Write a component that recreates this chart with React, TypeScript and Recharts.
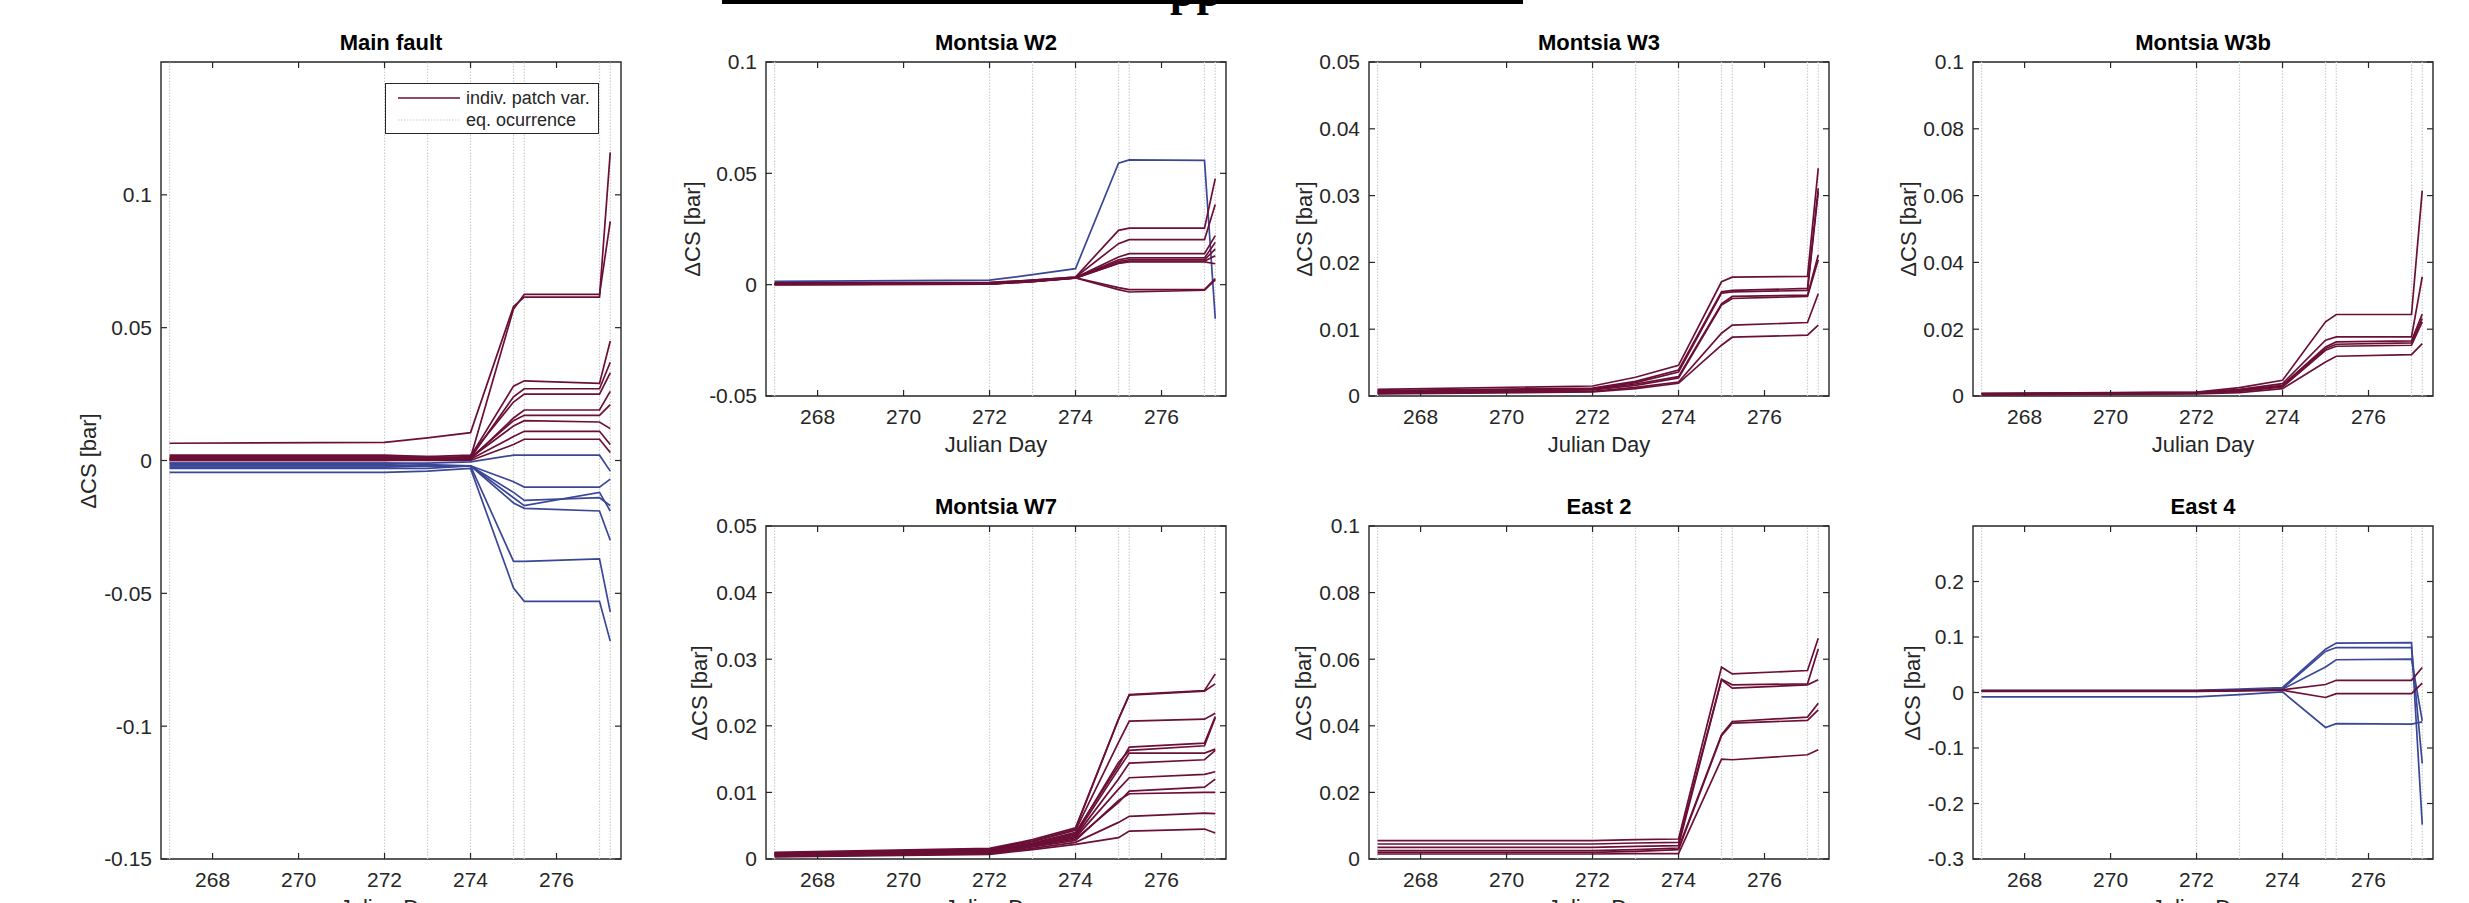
import React from "react";
import { LineChart, Line, XAxis, YAxis, ReferenceLine, ReferenceArea, Legend } from "recharts";

// sample days (same for every patch) and earthquake occurrence days
const days = [267, 272, 273, 274, 275, 275.25, 277, 277.25];
const eqDays = [267, 272, 273, 274, 275, 275.25, 277, 277.25];
const dayTicks = [268, 270, 272, 274, 276];
const dayRange: [number, number] = [266.8, 277.5];

// ΔCS per patch, one array per patch, values at `days`
const mainFault = [
    [0.0065, 0.0068, 0.0085, 0.0105, 0.058, 0.0615, 0.0615, 0.116],
    [0.002, 0.002, 0.0015, 0.001, 0.057, 0.0625, 0.0625, 0.09],
    [0.001, 0.001, 0.001, 0.0015, 0.028, 0.03, 0.029, 0.045],
    [0.0005, 0.0005, 0.001, 0.001, 0.024, 0.027, 0.027, 0.037],
    [0.0015, 0.0015, 0.0015, 0.002, 0.022, 0.025, 0.025, 0.033],
    [0, 0, 0.0005, 0.0005, 0.016, 0.019, 0.019, 0.026],
    [0.0005, 0.0005, 0.0005, 0.001, 0.015, 0.017, 0.017, 0.021],
    [0.001, 0.001, 0.001, 0.001, 0.013, 0.015, 0.0145, 0.012],
    [0.0002, 0.0002, 0.0005, 0.0005, 0.009, 0.011, 0.011, 0.006],
    [0, 0, 0, 0, 0.006, 0.008, 0.008, 0.003],
    [-0.001, -0.001, -0.001, -0.0005, 0.002, 0.002, 0.002, -0.004],
    [-0.001, -0.001, -0.0015, -0.002, -0.008, -0.01, -0.01, -0.007],
    [-0.0015, -0.0015, -0.002, -0.002, -0.012, -0.015, -0.014, -0.017],
    [-0.002, -0.002, -0.002, -0.002, -0.014, -0.017, -0.012, -0.019],
    [-0.0025, -0.0025, -0.002, -0.002, -0.016, -0.018, -0.019, -0.03],
    [-0.003, -0.003, -0.003, -0.002, -0.038, -0.038, -0.037, -0.057],
    [-0.0045, -0.0045, -0.004, -0.003, -0.048, -0.053, -0.053, -0.068],
];

const montsiaW2 = [
    [0.0015, 0.002, 0.0045, 0.0072, 0.0546, 0.056, 0.0558, -0.0153],
    [0.0008, 0.001, 0.002, 0.0034, 0.0244, 0.0254, 0.0254, 0.0476],
    [0.0006, 0.0008, 0.002, 0.0034, 0.0184, 0.0202, 0.0202, 0.036],
    [0.0004, 0.0006, 0.0018, 0.0032, 0.0124, 0.0139, 0.0139, 0.022],
    [0.0003, 0.0005, 0.0017, 0.0031, 0.0112, 0.012, 0.012, 0.019],
    [0.0002, 0.0004, 0.0016, 0.003, 0.0105, 0.0112, 0.0112, 0.016],
    [0.0001, 0.0003, 0.0015, 0.003, 0.0098, 0.0106, 0.0106, 0.013],
    [0, 0.0002, 0.0014, 0.0029, 0.0095, 0.0102, 0.0102, 0.0094],
    [0.0001, 0.0003, 0.0015, 0.0031, -0.0013, -0.0022, -0.0022, 0.0027],
    [0, 0.0002, 0.0014, 0.003, -0.0022, -0.0033, -0.0025, 0.0022],
];

const montsiaW3 = [
    [0.001, 0.0015, 0.0028, 0.0046, 0.0171, 0.0178, 0.0179, 0.0341],
    [0.0008, 0.0012, 0.0022, 0.0039, 0.0156, 0.0158, 0.0161, 0.0311],
    [0.0007, 0.0011, 0.002, 0.0036, 0.0154, 0.0156, 0.0158, 0.0306],
    [0.0006, 0.001, 0.0018, 0.0029, 0.0138, 0.0149, 0.0151, 0.0211],
    [0.0005, 0.0009, 0.0016, 0.0027, 0.0136, 0.0146, 0.0149, 0.0204],
    [0.0004, 0.0007, 0.0013, 0.0021, 0.0094, 0.0106, 0.011, 0.0153],
    [0.0003, 0.0006, 0.0011, 0.0019, 0.0076, 0.0088, 0.0091, 0.0106],
];

const montsiaW3b = [
    [0.0008, 0.0012, 0.0025, 0.0047, 0.0222, 0.0244, 0.0244, 0.0615],
    [0.0007, 0.0011, 0.002, 0.0037, 0.0167, 0.0177, 0.0177, 0.0357],
    [0.0006, 0.001, 0.0018, 0.0032, 0.0147, 0.0162, 0.0165, 0.0245],
    [0.0005, 0.0009, 0.0016, 0.003, 0.0142, 0.0155, 0.0159, 0.0232],
    [0.0004, 0.0008, 0.0014, 0.0027, 0.0137, 0.0149, 0.0152, 0.0222],
    [0.0003, 0.0006, 0.001, 0.0022, 0.0102, 0.0119, 0.0124, 0.0157],
];

const montsiaW7 = [
    [0.001, 0.0016, 0.0029, 0.0047, 0.021, 0.0247, 0.0253, 0.0278],
    [0.0009, 0.0015, 0.0027, 0.0045, 0.021, 0.0246, 0.0252, 0.0263],
    [0.0009, 0.0014, 0.0026, 0.0043, 0.0175, 0.0207, 0.021, 0.0219],
    [0.0008, 0.0013, 0.0024, 0.004, 0.014, 0.0168, 0.0174, 0.0214],
    [0.0008, 0.0012, 0.0023, 0.0038, 0.0145, 0.0163, 0.017, 0.0212],
    [0.0007, 0.0012, 0.0022, 0.0036, 0.0135, 0.0159, 0.0159, 0.0165],
    [0.0007, 0.0011, 0.0021, 0.0034, 0.012, 0.0144, 0.0149, 0.0163],
    [0.0006, 0.001, 0.002, 0.0032, 0.0105, 0.0122, 0.0127, 0.0131],
    [0.0006, 0.0009, 0.0019, 0.003, 0.0085, 0.0102, 0.0108, 0.012],
    [0.0005, 0.0009, 0.0018, 0.0028, 0.0088, 0.0098, 0.01, 0.01],
    [0.0004, 0.0008, 0.0016, 0.0025, 0.0055, 0.0064, 0.0069, 0.0068],
    [0.0003, 0.0007, 0.0014, 0.0022, 0.0032, 0.0042, 0.0045, 0.0039],
];

const east2 = [
    [0.0055, 0.0055, 0.0058, 0.006, 0.0576, 0.0556, 0.0566, 0.0663],
    [0.0045, 0.0045, 0.0048, 0.005, 0.054, 0.0523, 0.0526, 0.0631],
    [0.0035, 0.0035, 0.0038, 0.004, 0.0538, 0.0513, 0.0523, 0.0538],
    [0.0025, 0.0025, 0.0028, 0.0033, 0.0373, 0.0413, 0.0426, 0.0468],
    [0.002, 0.002, 0.0023, 0.0028, 0.037, 0.0408, 0.0416, 0.0448],
    [0.0015, 0.0015, 0.0016, 0.0016, 0.03, 0.0298, 0.0313, 0.0328],
];

const east4 = [
    [0.004, 0.004, 0.006, 0.009, 0.078, 0.089, 0.09, -0.238],
    [0.0035, 0.0035, 0.005, 0.007, 0.074, 0.081, 0.081, -0.128],
    [0.003, 0.003, 0.004, 0.006, 0.046, 0.059, 0.06, -0.051],
    [0.003, 0.003, 0.004, 0.005, 0.0144, 0.022, 0.022, 0.045],
    [0.002, 0.002, 0.003, 0.004, -0.009, -0.002, -0.002, 0.017],
    [-0.008, -0.008, -0.004, 0.001, -0.063, -0.056, -0.057, -0.053],
];

const mainTicks = [-0.15, -0.1, -0.05, 0, 0.05, 0.1];
const w2Ticks = [-0.05, 0, 0.05, 0.1];
const w3Ticks = [0, 0.01, 0.02, 0.03, 0.04, 0.05];
const w3bTicks = [0, 0.02, 0.04, 0.06, 0.08, 0.1];
const e4Ticks = [-0.3, -0.2, -0.1, 0, 0.1, 0.2];

const AXIS = "#262626";
const MAROON = "#6b0f36";
const BLUE = "#3a4797";
const EQ = "#cdcdcd";
const FONT = '"Liberation Sans", Arial, Helvetica, sans-serif';

const ML = 120;
const MT = 24;
const MR = 10;
const MB = 60;
const XTM = 13;
const YTM = 9;
const PW = 460;

const fmt = (v: number) => String(Number(v.toFixed(4)));

const XTick = (p: any) => {
    const ay = p.y - XTM;
    return (
        <g>
            <line x1={p.x} x2={p.x} y1={ay} y2={ay - 6} stroke={AXIS} strokeWidth={1.2} />
            <line x1={p.x} x2={p.x} y1={ay - p.h} y2={ay - p.h + 6} stroke={AXIS} strokeWidth={1.2} />
            <text x={p.x} y={p.y} dy="0.71em" textAnchor="middle" fill={AXIS} fontSize={21} fontFamily={FONT}>
                {p.payload.value}
            </text>
        </g>
    );
};

const YTick = (p: any) => {
    const ax = p.x + YTM;
    return (
        <g>
            <line x1={ax} x2={ax + 6} y1={p.y} y2={p.y} stroke={AXIS} strokeWidth={1.2} />
            <line x1={ax + PW} x2={ax + PW - 6} y1={p.y} y2={p.y} stroke={AXIS} strokeWidth={1.2} />
            <text x={p.x} y={p.y} dy="0.355em" textAnchor="end" fill={AXIS} fontSize={21} fontFamily={FONT}>
                {fmt(p.payload.value)}
            </text>
        </g>
    );
};

const LegendBox = () => (
    <div
        style={{
            width: 214,
            height: 51,
            border: `1.5px solid ${AXIS}`,
            background: "#fff",
            fontFamily: FONT,
            fontSize: 18,
            color: AXIS,
            boxSizing: "border-box",
            position: "relative",
        }}
    >
        <svg width={70} height={50} style={{ position: "absolute", left: 8, top: 0 }}>
            <line x1={4} x2={66} y1={14} y2={14} stroke={MAROON} strokeWidth={1.6} />
            <line x1={4} x2={66} y1={36} y2={36} stroke={EQ} strokeWidth={1.2} strokeDasharray="1.5 1.5" />
        </svg>
        <div style={{ position: "absolute", left: 80, top: 3, lineHeight: "22px", whiteSpace: "nowrap" }}>indiv. patch var.</div>
        <div style={{ position: "absolute", left: 80, top: 25, lineHeight: "22px", whiteSpace: "nowrap" }}>eq. ocurrence</div>
    </div>
);

interface PanelProps {
    title: string;
    series: number[][];
    yDomain: [number, number];
    yTicks: number[];
    left: number;
    top: number;
    h: number;
    labelX: number;
    legend?: boolean;
}

const Panel = ({ title, series, yDomain, yTicks, left, top, h, labelX, legend }: PanelProps) => {
    const rows = days.map((d, i) => {
        const r: any = { day: d };
        series.forEach((s, k) => (r["s" + k] = s[i]));
        return r;
    });
    const bottom = top + h;
    return (
        <>
            <div style={{ position: "absolute", left: left - ML, top: top - MT }}>
                <LineChart
                    width={ML + PW + MR}
                    height={MT + h + MB}
                    data={rows}
                    margin={{ top: MT, right: MR, bottom: 0, left: 0 }}
                >
                    <XAxis
                        dataKey="day"
                        type="number"
                        domain={dayRange}
                        ticks={dayTicks}
                        allowDataOverflow
                        interval={0}
                        tickSize={0}
                        tickMargin={XTM}
                        tickLine={false}
                        axisLine={false}
                        height={MB}
                        tick={<XTick h={h} />}
                    />
                    <YAxis
                        type="number"
                        domain={yDomain}
                        ticks={yTicks}
                        allowDataOverflow
                        interval={0}
                        tickSize={0}
                        tickMargin={YTM}
                        tickLine={false}
                        axisLine={false}
                        width={ML}
                        tick={<YTick />}
                    />
                    {eqDays.map((d) => (
                        <ReferenceLine key={d} x={d} stroke={EQ} strokeWidth={1.2} strokeDasharray="1.5 1.5" />
                    ))}
                    {series.map((s, k) => (
                        <Line
                            key={k}
                            dataKey={"s" + k}
                            type="linear"
                            stroke={s[s.length - 1] < 0 ? BLUE : MAROON}
                            strokeWidth={1.7}
                            dot={false}
                            activeDot={false}
                            isAnimationActive={false}
                        />
                    ))}
                    <ReferenceArea
                        x1={dayRange[0]}
                        x2={dayRange[1]}
                        y1={yDomain[0]}
                        y2={yDomain[1]}
                        fill="none"
                        fillOpacity={0}
                        stroke={AXIS}
                        strokeWidth={1.4}
                    />
                    {legend && (
                        <Legend
                            layout="horizontal"
                            verticalAlign="middle"
                            align="center"
                            wrapperStyle={{ position: "absolute", left: 385 - left + ML, top: 83 - top + MT, width: 216, height: 53 }}
                            content={() => <LegendBox />}
                        />
                    )}
                </LineChart>
            </div>
            <div
                style={{
                    position: "absolute",
                    left,
                    top: top - 32,
                    width: PW,
                    textAlign: "center",
                    fontWeight: "bold",
                    fontSize: 22,
                    lineHeight: "26px",
                    color: "#000",
                }}
            >
                {title}
            </div>
            <div
                style={{
                    position: "absolute",
                    left,
                    top: bottom + 36,
                    width: PW,
                    textAlign: "center",
                    fontSize: 22,
                    lineHeight: "26px",
                    color: AXIS,
                }}
            >
                Julian Day
            </div>
            <div
                style={{
                    position: "absolute",
                    left: labelX - 100,
                    top: top + h / 2 - 13,
                    width: 200,
                    height: 26,
                    lineHeight: "26px",
                    textAlign: "center",
                    fontSize: 22,
                    color: AXIS,
                    transform: "rotate(-90deg)",
                }}
            >
                ΔCS [bar]
            </div>
        </>
    );
};

export default function App() {
    return (
        <div
            style={{
                position: "absolute",
                left: 0,
                top: 0,
                width: 2469,
                height: 903,
                overflow: "hidden",
                background: "#fff",
                fontFamily: FONT,
            }}
        >
            {/* clipped page heading above the figure */}
            <div style={{ position: "absolute", left: 722, top: 0, width: 801, height: 4, background: "#000" }} />
            <div
                style={{
                    position: "absolute",
                    left: 1170,
                    top: -30,
                    fontFamily: '"Liberation Serif", "Times New Roman", serif',
                    fontWeight: "bold",
                    fontSize: 44,
                    lineHeight: "44px",
                    color: "#000",
                    letterSpacing: 2,
                }}
            >
                pp
            </div>

            <Panel title="Main fault" series={mainFault} yDomain={[-0.15, 0.15]} yTicks={mainTicks} left={161} top={62} h={797} labelX={89} legend />
            <Panel title="Montsia W2" series={montsiaW2} yDomain={[-0.05, 0.1]} yTicks={w2Ticks} left={766} top={62} h={334} labelX={693} />
            <Panel title="Montsia W3" series={montsiaW3} yDomain={[0, 0.05]} yTicks={w3Ticks} left={1369} top={62} h={334} labelX={1305} />
            <Panel title="Montsia W3b" series={montsiaW3b} yDomain={[0, 0.1]} yTicks={w3bTicks} left={1973} top={62} h={334} labelX={1909} />
            <Panel title="Montsia W7" series={montsiaW7} yDomain={[0, 0.05]} yTicks={w3Ticks} left={766} top={526} h={333} labelX={700} />
            <Panel title="East 2" series={east2} yDomain={[0, 0.1]} yTicks={w3bTicks} left={1369} top={526} h={333} labelX={1304} />
            <Panel title="East 4" series={east4} yDomain={[-0.3, 0.3]} yTicks={e4Ticks} left={1973} top={526} h={333} labelX={1913} />
        </div>
    );
}
